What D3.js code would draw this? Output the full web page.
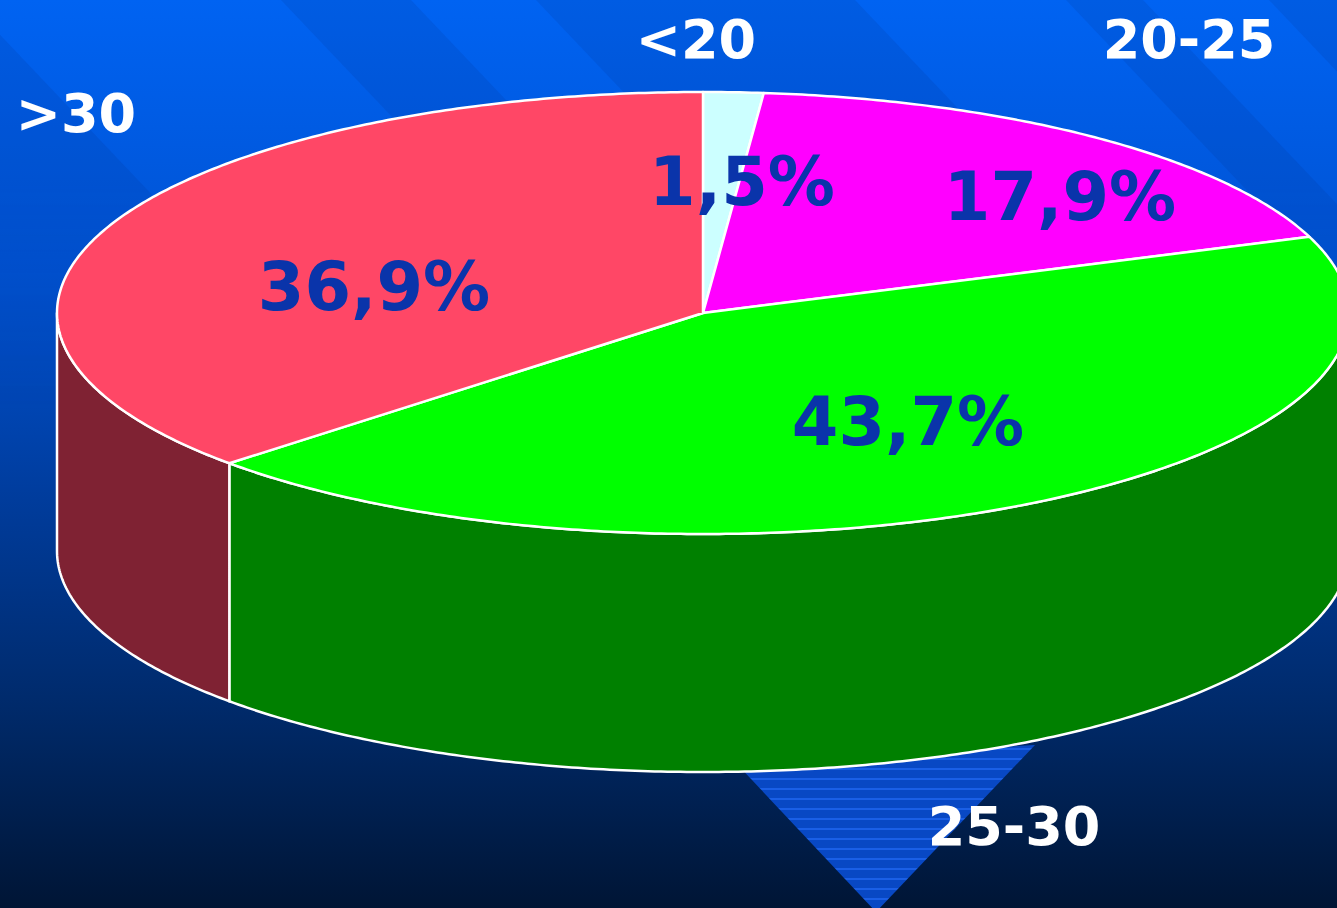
<!DOCTYPE html>
<html>
<head>
<meta charset="utf-8">
<script src="https://cdn.jsdelivr.net/npm/d3@7"></script>
<style>
  html, body { margin: 0; padding: 0; background: #001535; overflow: hidden; }
  text { font-family: "DejaVu Sans", Verdana, sans-serif; font-weight: bold; }
</style>
</head>
<body>
<div class="chart"></div>
<script>
// 3D pie: age groups
var categories = ["<20", "20-25", "25-30", ">30"];
var shares = [1.5, 17.9, 43.7, 36.9];
var pctLabels = ["1,5%", "17,9%", "43,7%", "36,9%"];

var topColors = ["#ccffff", "#ff00ff", "#00ff00", "#ff4766"];
var sideColors = ["#8fb3b3", "#a000a0", "#008000", "#7f2233"];

var svgWidth = 1337;
var svgHeight = 908;

var cx = 703, cy = 313;   // centre of top face
var rx = 646, ry = 221;   // ellipse radii
var depth = 238;          // thickness of the pie

var svg = d3.select(".chart")
  .append("svg")
  .attr("width", svgWidth)
  .attr("height", svgHeight);

var defs = svg.append("defs");

// background gradient
var bg = defs.append("linearGradient")
  .attr("id", "bg")
  .attr("x1", 0).attr("y1", 0).attr("x2", 0).attr("y2", 1);
[[0, "#0063f2"], [0.3, "#0052d2"], [0.55, "#003c9c"], [0.78, "#002a6a"], [1, "#001535"]]
  .forEach(s => bg.append("stop").attr("offset", s[0]).attr("stop-color", s[1]));

var fade = defs.append("linearGradient")
  .attr("id", "fade")
  .attr("x1", 0).attr("y1", 0).attr("x2", 0).attr("y2", 1);
fade.append("stop").attr("offset", 0).attr("stop-color", "#fff");
fade.append("stop").attr("offset", 0.2).attr("stop-color", "#fff");
fade.append("stop").attr("offset", 0.45).attr("stop-color", "#000");
var mask = defs.append("mask").attr("id", "fadeMask");
mask.append("rect").attr("width", svgWidth).attr("height", svgHeight).attr("fill", "url(#fade)");

// horizontal lines in the triangle
var hlines = defs.append("pattern")
  .attr("id", "hlines")
  .attr("patternUnits", "userSpaceOnUse")
  .attr("width", 20).attr("height", 10);
hlines.append("rect").attr("width", 20).attr("height", 10).attr("fill", "#0848c4");
hlines.append("rect").attr("y", 8).attr("width", 20).attr("height", 2).attr("fill", "#1a5fe6");

svg.append("rect")
  .attr("width", svgWidth).attr("height", svgHeight)
  .attr("fill", "url(#bg)");

// darker diagonal bands (x range where each band meets the top edge)
var bands = [[-400, -33], [281, 411], [536, 855], [1066, 1143], [1269, 1400]];
var slope = 0.95, bandLen = 600;
svg.append("g")
  .attr("mask", "url(#fadeMask)")
  .selectAll("path")
  .data(bands)
  .enter()
  .append("path")
  .attr("d", b => `M${b[0]},0 L${b[1]},0 L${b[1] + bandLen * slope},${bandLen} L${b[0] + bandLen * slope},${bandLen} Z`)
  .attr("fill", "#00287a")
  .attr("opacity", 0.12);

// triangle decoration below the pie
svg.append("path")
  .attr("d", "M735,762 L1035,745 L876,912 Z")
  .attr("fill", "url(#hlines)");

// pie angles
var pie = d3.pie().sort(null).startAngle(0).endAngle(2 * Math.PI);
var arcs = pie(shares);

function px(a) { return cx + rx * Math.sin(a); }
function py(a) { return cy - ry * Math.cos(a); }

function rimPoints(a0, a1) {
  var n = Math.max(2, Math.ceil((a1 - a0) / 0.01));
  var pts = [];
  for (var i = 0; i <= n; i++) {
    var a = a0 + (a1 - a0) * i / n;
    pts.push([px(a), py(a)]);
  }
  return pts;
}

var line = d3.line();
var pieGroup = svg.append("g");

// visible side walls (front half: angle between 90 and 270 degrees)
arcs.forEach(function(d, i) {
  var a0 = Math.max(d.startAngle, Math.PI / 2);
  var a1 = Math.min(d.endAngle, 3 * Math.PI / 2);
  if (a1 <= a0) return;
  var top = rimPoints(a0, a1);
  var bottom = top.map(p => [p[0], p[1] + depth]).reverse();
  pieGroup.append("path")
    .attr("d", line(top.concat(bottom)) + "Z")
    .attr("fill", sideColors[i])
    .attr("stroke", "#fff")
    .attr("stroke-width", 2.5)
    .attr("stroke-linejoin", "round");
});

// top faces
arcs.forEach(function(d, i) {
  var pts = [[cx, cy]].concat(rimPoints(d.startAngle, d.endAngle));
  pieGroup.append("path")
    .attr("d", line(pts) + "Z")
    .attr("fill", topColors[i])
    .attr("stroke", "#fff")
    .attr("stroke-width", 2.5)
    .attr("stroke-linejoin", "round");
});

// percentage labels on the top face
var pctPos = [[742, 205], [1060, 220], [908, 445], [374, 310]];
svg.selectAll(".pct")
  .data(pctLabels)
  .enter()
  .append("text")
  .attr("class", "pct")
  .attr("x", (d, i) => pctPos[i][0])
  .attr("y", (d, i) => pctPos[i][1])
  .attr("text-anchor", "middle")
  .attr("font-size", "67px")
  .attr("fill", "#0a34aa")
  .text(d => d);

// category labels
var catPos = [[696, 58], [1189, 58], [1014, 845], [76, 132]];
svg.selectAll(".cat")
  .data(categories)
  .enter()
  .append("text")
  .attr("class", "cat")
  .attr("x", (d, i) => catPos[i][0])
  .attr("y", (d, i) => catPos[i][1])
  .attr("text-anchor", "middle")
  .attr("font-size", "54px")
  .attr("fill", "#fff")
  .text(d => d);
</script>
</body>
</html>
